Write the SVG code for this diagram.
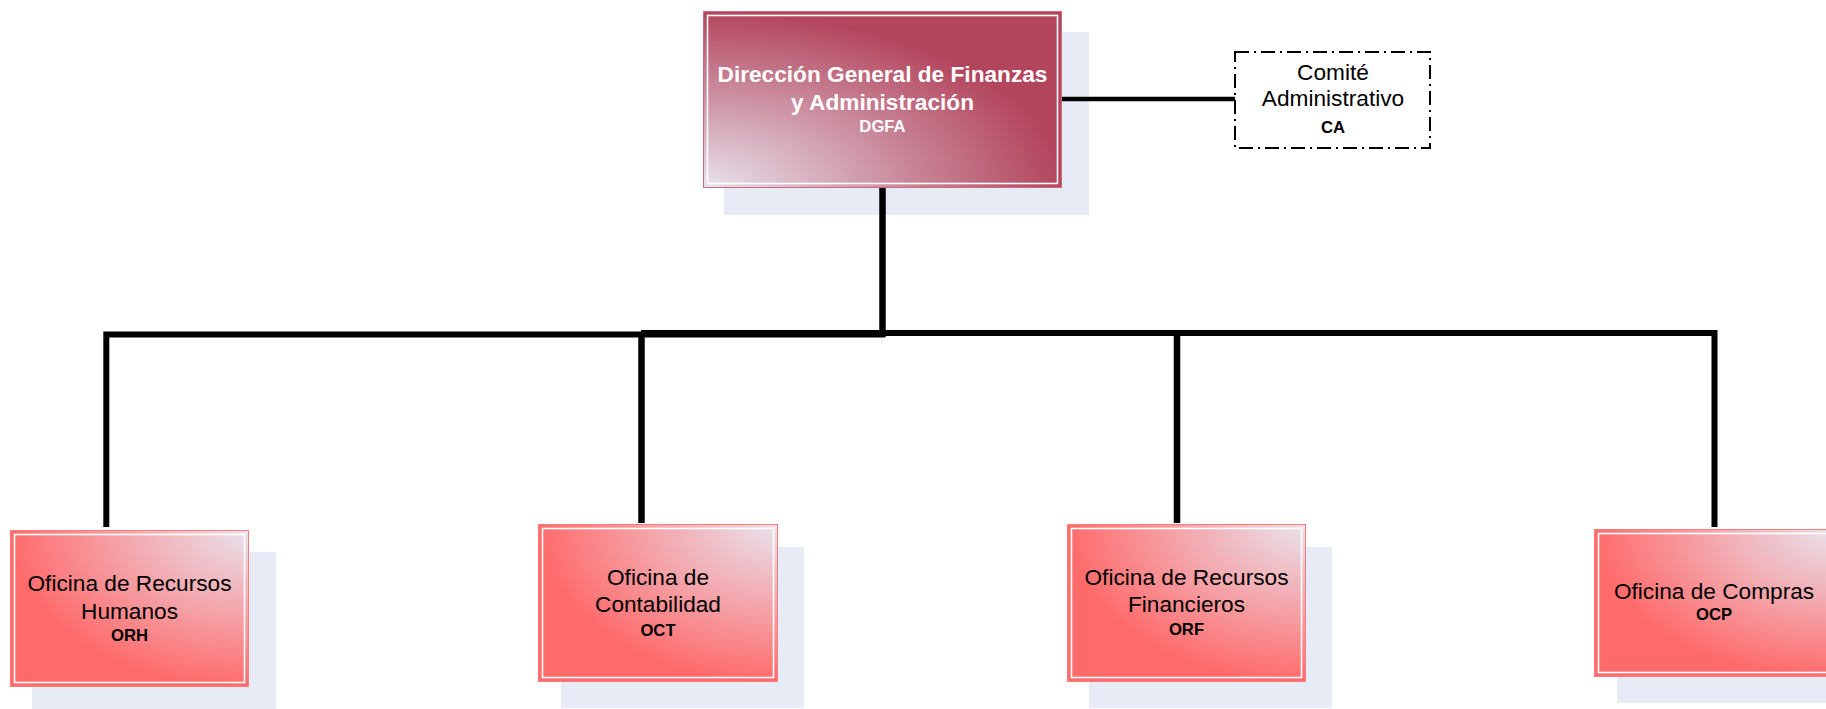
<svg xmlns="http://www.w3.org/2000/svg" width="1826" height="709" viewBox="0 0 1826 709">
  <defs>
    <radialGradient id="gradTop" cx="0" cy="1" r="1" fx="0" fy="1">
      <stop offset="0" stop-color="#e8e2ec"/>
      <stop offset="0.5" stop-color="#cd93a4"/>
      <stop offset="1" stop-color="#b3455d"/>
    </radialGradient>
    <radialGradient id="gradOffice" cx="1" cy="0" r="1" fx="1" fy="0">
      <stop offset="0" stop-color="#e9e2ec"/>
      <stop offset="0.5" stop-color="#f3a8ae"/>
      <stop offset="1" stop-color="#ff6b6b"/>
    </radialGradient>
    <style>
      .shadow { fill: #e6ebf5; }
      .topBox { fill: url(#gradTop); stroke: #cc6a80; stroke-width: 1; }
      .officeBox { fill: url(#gradOffice); stroke: #ff7a7a; stroke-width: 1; }
      .inner { fill: none; stroke: #ffffff; stroke-width: 1.6; }
      .link { fill: none; stroke: #000000; stroke-linejoin: miter; stroke-linecap: butt; }
      .title { font-family: "Liberation Sans", Arial, sans-serif; font-size: 22.67px; font-weight: bold; fill: #ffffff; text-anchor: middle; }
      .titleAbbr { font-family: "Liberation Sans", Arial, sans-serif; font-size: 16.67px; font-weight: bold; fill: #ffffff; text-anchor: middle; }
      .label { font-family: "Liberation Sans", Arial, sans-serif; font-size: 22.67px; fill: #000000; text-anchor: middle; }
      .abbr { font-family: "Liberation Sans", Arial, sans-serif; font-size: 16.67px; font-weight: bold; fill: #000000; text-anchor: middle; }
      .committee { fill: #ffffff; stroke: #000000; stroke-width: 2; stroke-dasharray: 14 5 2 5; }
    </style>
  </defs>

  <!-- head office -->
  <g id="node-dgfa">
    <rect class="shadow" x="724" y="32" width="365" height="183"/>
    <rect class="topBox" x="703.5" y="11.5" width="358" height="176"/>
    <rect class="inner" x="707.5" y="15.5" width="350" height="168"/>
    <text class="title" x="882.5" y="82">Dirección General de Finanzas</text>
    <text class="title" x="882.5" y="110">y Administración</text>
    <text class="titleAbbr" x="882.5" y="132">DGFA</text>
  </g>

  <!-- committee -->
  <g id="node-ca">
    <rect class="committee" x="1235" y="52" width="195" height="96"/>
    <text class="label" x="1333" y="80">Comité</text>
    <text class="label" x="1333" y="106">Administrativo</text>
    <text class="abbr" x="1333" y="133">CA</text>
  </g>

  <!-- offices -->
  <g id="node-orh">
    <rect class="shadow" x="32" y="552" width="244" height="157"/>
    <rect class="officeBox" x="10.5" y="530.5" width="238" height="156"/>
    <rect class="inner" x="14.5" y="534.5" width="230" height="148"/>
    <text class="label" x="129.5" y="591">Oficina de Recursos</text>
    <text class="label" x="129.5" y="619">Humanos</text>
    <text class="abbr" x="129.5" y="641">ORH</text>
  </g>

  <g id="node-oct">
    <rect class="shadow" x="561" y="547" width="243" height="161"/>
    <rect class="officeBox" x="538.5" y="524.5" width="239" height="157"/>
    <rect class="inner" x="542.5" y="528.5" width="231" height="149"/>
    <text class="label" x="658" y="585">Oficina de</text>
    <text class="label" x="658" y="612">Contabilidad</text>
    <text class="abbr" x="658" y="636">OCT</text>
  </g>

  <g id="node-orf">
    <rect class="shadow" x="1089" y="547" width="243" height="161"/>
    <rect class="officeBox" x="1067.5" y="524.5" width="238" height="157"/>
    <rect class="inner" x="1071.5" y="528.5" width="230" height="149"/>
    <text class="label" x="1186.5" y="585">Oficina de Recursos</text>
    <text class="label" x="1186.5" y="612">Financieros</text>
    <text class="abbr" x="1186.5" y="635">ORF</text>
  </g>

  <g id="node-ocp">
    <rect class="shadow" x="1617" y="552" width="243" height="151"/>
    <rect class="officeBox" x="1594.5" y="529.5" width="239" height="147"/>
    <rect class="inner" x="1598.5" y="533.5" width="231" height="139"/>
    <text class="label" x="1714" y="599">Oficina de Compras</text>
    <text class="abbr" x="1714" y="620">OCP</text>
  </g>

  <!-- connectors, drawn over the drop shadows -->
  <g id="connectors">
    <path class="link" stroke-width="4.5" d="M1062,99 H1235"/>
    <path class="link" stroke-width="6.5" d="M882.5,188 V337"/>
    <path class="link" stroke-width="6" d="M106.3,527 V334.5 H885"/>
    <path class="link" stroke-width="6" d="M641,333 H1714.5 V527"/>
    <path class="link" stroke-width="6.5" d="M641.5,333 V523"/>
    <path class="link" stroke-width="6.5" d="M1177,333 V523"/>
  </g>
</svg>
